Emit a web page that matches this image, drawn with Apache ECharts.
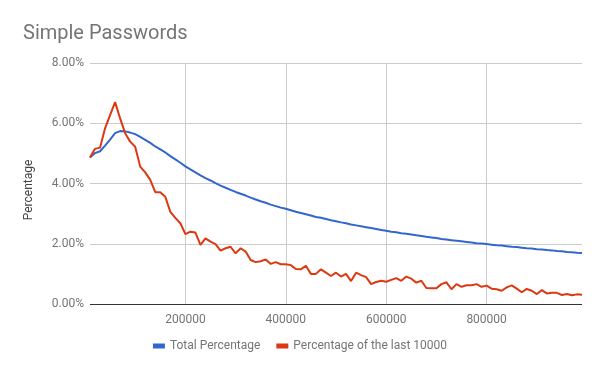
<!DOCTYPE html>
<html>
<head>
<meta charset="utf-8">
<script src="https://cdn.jsdelivr.net/npm/echarts@6/dist/echarts.min.js"></script>
<style>html,body{margin:0;padding:0;background:#fff}#c{width:600px;height:371px}</style>
</head>
<body>
<div id="c"></div>
<script>
// x positions (number of passwords), every 10000 from 10000 to 990000
var xValues = [];
for (var i = 1; i <= 99; i++) xValues.push(i * 10000);

var totalPercentage = [
  4.86, 5.01, 5.07, 5.26, 5.46, 5.67, 5.74, 5.73, 5.69, 5.64,
  5.55, 5.45, 5.35, 5.23, 5.13, 5.03, 4.91, 4.80, 4.69, 4.57,
  4.47, 4.37, 4.27, 4.18, 4.10, 4.01, 3.93, 3.86, 3.79, 3.72,
  3.66, 3.60, 3.53, 3.47, 3.41, 3.36, 3.30, 3.25, 3.20, 3.16,
  3.11, 3.06, 3.02, 2.98, 2.94, 2.89, 2.86, 2.82, 2.78, 2.75,
  2.71, 2.68, 2.64, 2.61, 2.58, 2.55, 2.52, 2.49, 2.46, 2.43,
  2.40, 2.38, 2.35, 2.33, 2.31, 2.28, 2.26, 2.23, 2.21, 2.19,
  2.16, 2.14, 2.12, 2.10, 2.08, 2.06, 2.04, 2.02, 2.01, 1.99,
  1.97, 1.95, 1.94, 1.92, 1.90, 1.89, 1.87, 1.85, 1.84, 1.82,
  1.81, 1.79, 1.78, 1.76, 1.75, 1.73, 1.72, 1.70, 1.69
];

var lastPercentage = [
  4.86, 5.15, 5.19, 5.83, 6.27, 6.70, 6.16, 5.67, 5.39, 5.22,
  4.56, 4.37, 4.12, 3.71, 3.71, 3.56, 3.06, 2.86, 2.68, 2.32,
  2.40, 2.37, 1.96, 2.18, 2.07, 1.99, 1.77, 1.85, 1.90, 1.68,
  1.85, 1.74, 1.46, 1.39, 1.42, 1.48, 1.33, 1.39, 1.32, 1.32,
  1.29, 1.16, 1.15, 1.27, 1.00, 1.00, 1.15, 1.04, 0.93, 1.04,
  0.91, 1.00, 0.76, 1.04, 0.96, 0.89, 0.66, 0.73, 0.77, 0.74,
  0.80, 0.86, 0.77, 0.91, 0.84, 0.71, 0.77, 0.53, 0.52, 0.52,
  0.66, 0.72, 0.49, 0.66, 0.57, 0.62, 0.62, 0.66, 0.57, 0.61,
  0.51, 0.49, 0.44, 0.55, 0.62, 0.51, 0.39, 0.50, 0.44, 0.33,
  0.46, 0.35, 0.37, 0.37, 0.30, 0.33, 0.29, 0.32, 0.31
];

var xTicks = [200000, 400000, 600000, 800000];
var yTicks = [0, 2, 4, 6, 8];

function pairs(ys) {
  return xValues.map(function (x, i) { return [x, ys[i]]; });
}

var font = 'Roboto, Arial, sans-serif';
var chart = echarts.init(document.getElementById('c'));
chart.setOption({
  animation: false,
  backgroundColor: '#fff',
  title: {
    text: 'Simple Passwords',
    left: 18, top: 19,
    textStyle: { fontFamily: font, fontSize: 20, fontWeight: 'normal', color: '#757575' }
  },
  legend: {
    bottom: 14, left: 'center',
    itemWidth: 12, itemHeight: 5, itemGap: 16,
    icon: 'rect',
    textStyle: { fontFamily: font, fontSize: 12, color: '#757575' },
    data: ['Total Percentage', 'Percentage of the last 10000']
  },
  grid: { left: 90, right: 18, top: 63, bottom: 67, containLabel: false },
  xAxis: {
    type: 'value',
    min: 10000, max: 990000,
    axisLine: { show: false },
    axisTick: { show: false, customValues: xTicks },
    axisLabel: {
      customValues: xTicks, fontFamily: font, fontSize: 12, color: '#757575', margin: 10,
      formatter: function (v) { return String(v); }
    },
    splitLine: { show: true, lineStyle: { color: '#cccccc', width: 1 } }
  },
  yAxis: {
    type: 'value',
    min: 0, max: 8, interval: 2,
    name: 'Percentage',
    nameLocation: 'middle',
    nameGap: 55,
    nameTextStyle: { fontFamily: font, fontSize: 12, color: '#444', padding: [0, 0, 0, -13] },
    axisLine: { show: false },
    axisTick: { show: false },
    axisLabel: {
      fontFamily: font, fontSize: 12, color: '#757575', margin: 6,
      formatter: function (v) { return v.toFixed(2) + '%'; }
    },
    splitLine: { show: true, lineStyle: { color: '#cccccc', width: 1 } }
  },
  series: [
    {
      name: 'Total Percentage', type: 'line',
      data: pairs(totalPercentage),
      showSymbol: false, symbol: 'none',
      lineStyle: { color: '#3366cc', width: 2 },
      itemStyle: { color: '#3366cc' },
      z: 3,
      markLine: {
        silent: true, symbol: 'none', label: { show: false },
        lineStyle: { color: '#333333', width: 1, type: 'solid' },
        data: [{ yAxis: 0 }]
      }
    },
    {
      name: 'Percentage of the last 10000', type: 'line',
      data: pairs(lastPercentage),
      showSymbol: false, symbol: 'none',
      lineStyle: { color: '#dc3912', width: 2 },
      itemStyle: { color: '#dc3912' },
      z: 4
    }
  ]
});
</script>
</body>
</html>
